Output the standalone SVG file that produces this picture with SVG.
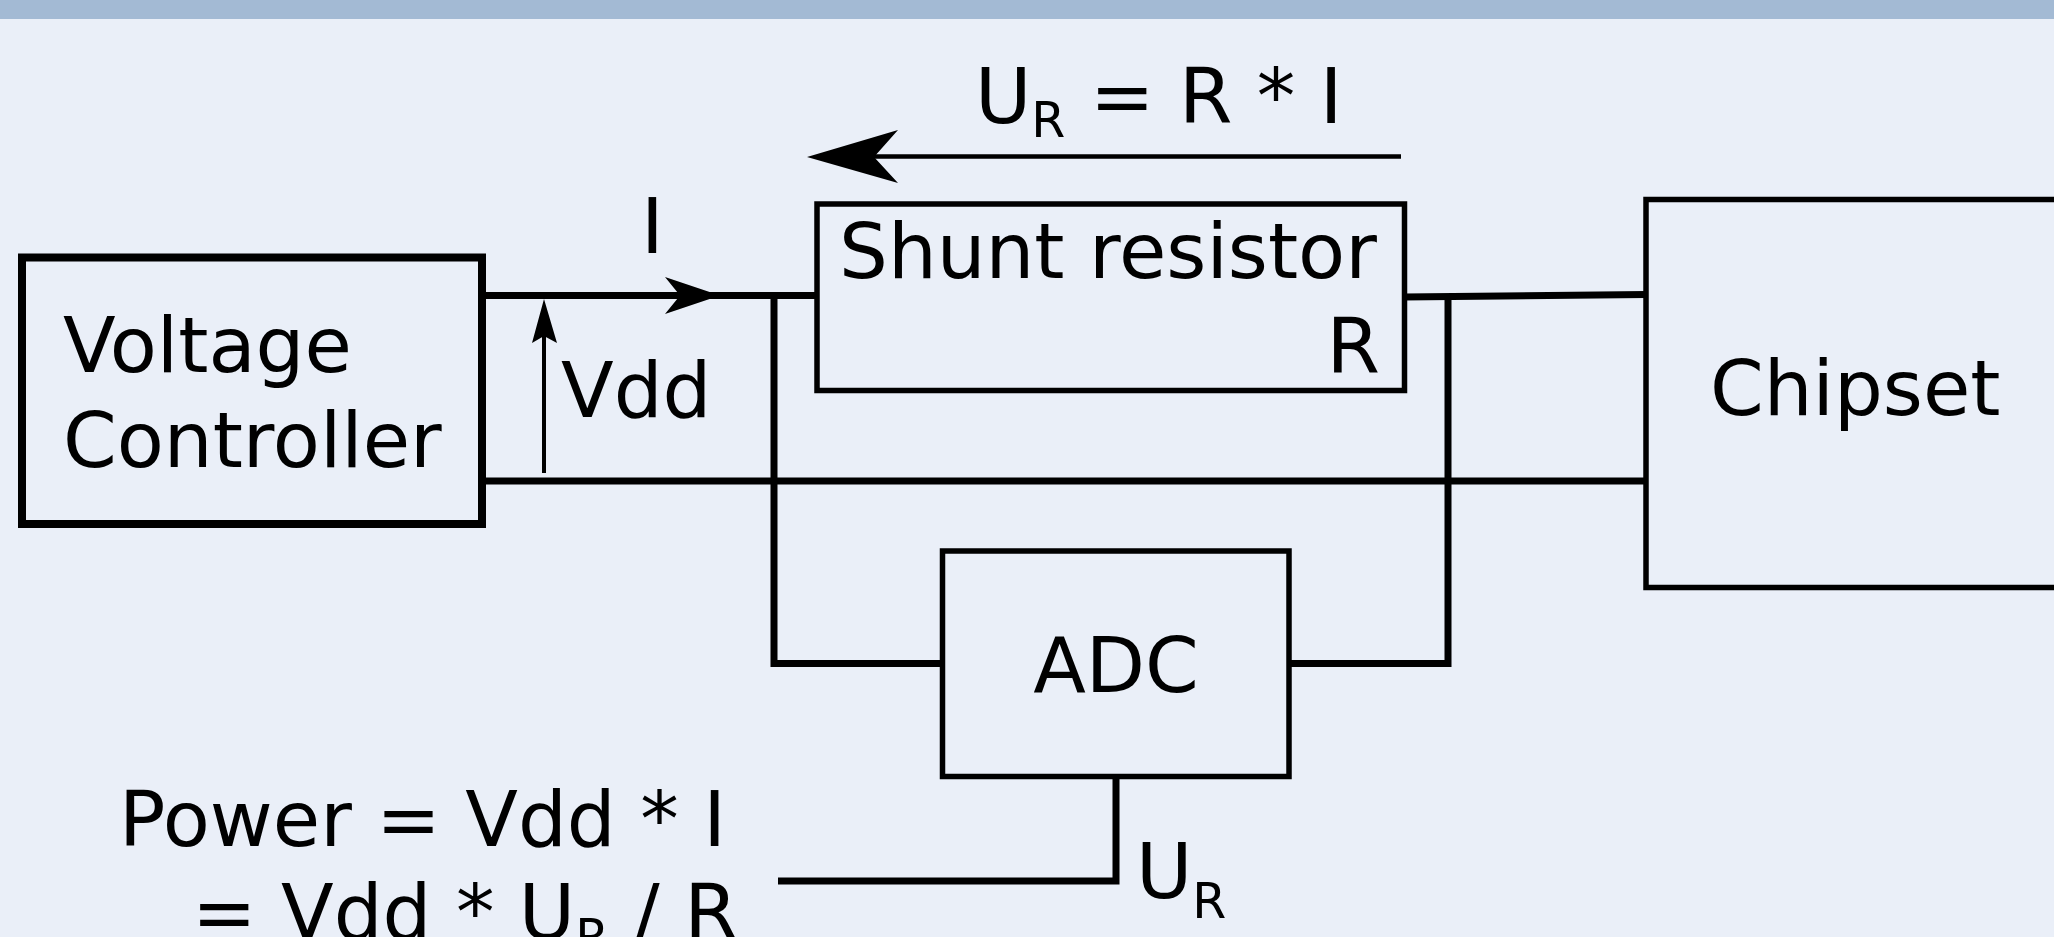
<svg xmlns="http://www.w3.org/2000/svg" width="2054" height="937" viewBox="0 0 2054 937">
<style>
text{font-family:"DejaVu Sans","Liberation Sans",sans-serif;font-size:77px;fill:#000}
.sub{font-size:49px}
.box{fill:none;stroke:#000}
.wire{fill:none;stroke:#000;stroke-width:7}
.head{fill:#000;stroke:none}
</style>
<rect x="0" y="0" width="2054" height="937" fill="#eaeff8"/>
<rect x="0" y="0" width="2054" height="19" fill="#a3bad4"/>
<g id="connectors">
<line class="wire" x1="483" y1="295.5" x2="817" y2="295.5"/>
<polygon class="head" points="720,295.5 665,277 680,295.5 665,314"/>
<line class="wire" x1="483" y1="481" x2="1646" y2="481"/>
<path class="wire" d="M774,295.5 V663.5 H942.5"/>
<path class="wire" d="M1289,663.5 H1448 V297"/>
<path class="wire" d="M1404,297 L1646,294.5"/>
<path class="wire" d="M1116,776.5 V881 H778"/>
<line x1="544" y1="473" x2="544" y2="336" stroke="#000" stroke-width="4"/>
<polygon class="head" points="544,299 532,343 544,336 557,343"/>
<line x1="874" y1="156.5" x2="1401" y2="156.5" stroke="#000" stroke-width="4.5"/>
<polygon class="head" points="807,157 898,130 874,157 898,183"/>
</g>
<g id="voltage-controller">
<rect class="box" x="22" y="257.5" width="460" height="266.5" stroke-width="8"/>
<text x="63" y="372">Voltage</text>
<text x="63" y="467">Controller</text>
</g>
<g id="shunt-resistor">
<rect class="box" x="817" y="204" width="587.5" height="186.5" stroke-width="5.5"/>
<text x="839" y="278">Shunt resistor</text>
<text x="1380" y="373" text-anchor="end">R</text>
</g>
<g id="chipset">
<rect class="box" x="1646" y="199.5" width="520" height="388" stroke-width="5.5"/>
<text x="1710" y="415">Chipset</text>
</g>
<g id="adc">
<rect class="box" x="942.5" y="551" width="346.5" height="225.5" stroke-width="5.5"/>
<text x="1116" y="692" text-anchor="middle">ADC</text>
</g>
<g id="labels">
<text x="641" y="253">I</text>
<text x="561" y="417">Vdd</text>
<text x="975" y="123">U<tspan class="sub" dy="14">R</tspan><tspan dy="-14"> = R * I</tspan></text>
<text x="1136" y="898">U<tspan class="sub" dy="20">R</tspan></text>
<text x="119" y="846">Power = Vdd * I</text>
<text x="192" y="939">= Vdd * U<tspan class="sub" dy="15">R</tspan><tspan dy="-15"> / R</tspan></text>
</g>
</svg>
